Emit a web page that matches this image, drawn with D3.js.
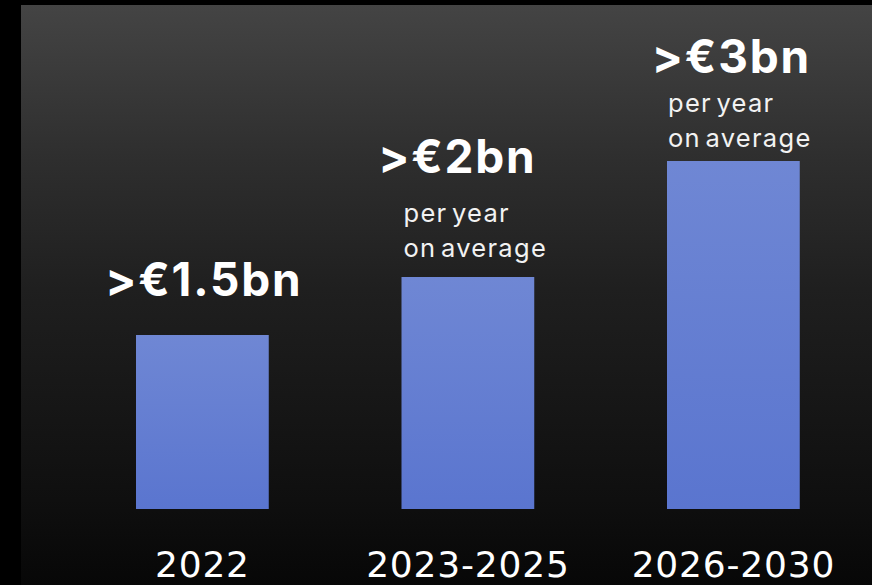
<!DOCTYPE html>
<html>
<head>
<meta charset="utf-8">
<script src="https://cdn.jsdelivr.net/npm/d3@7"></script>
<style>
  html, body { margin: 0; padding: 0; background: #000; }
  svg { display: block; }
</style>
</head>
<body>
<svg id="chart" width="872" height="585"></svg>
<script>
// ---- data ----
const categories = ["2022", "2023-2025", "2026-2030"];
const values = [1.5, 2, 3];               // €bn
const valueLabels = [">€1.5bn", ">€2bn", ">€3bn"];
const noteLines = [[], ["per year", "on average"], ["per year", "on average"]];

// ---- layout ----
const W = 872, H = 585;
const svg = d3.select("#chart");
const defs = svg.append("defs");

const bg = defs.append("linearGradient").attr("id", "bg")
  .attr("x1", 0).attr("y1", 0).attr("x2", 0).attr("y2", 1);
[[0, "#444444"], [0.267, "#2e2e2e"], [0.49, "#1f1f1f"], [0.853, "#0f0f0f"], [1, "#070707"]]
  .forEach(([o, c]) => bg.append("stop").attr("offset", o).attr("stop-color", c));

const barGrad = defs.append("linearGradient").attr("id", "barGrad")
  .attr("x1", 0).attr("y1", 0).attr("x2", 0).attr("y2", 1);
barGrad.append("stop").attr("offset", 0).attr("stop-color", "#6f87d4");
barGrad.append("stop").attr("offset", 1).attr("stop-color", "#5a75cf");

svg.append("rect").attr("width", W).attr("height", H).attr("fill", "#000");
svg.append("rect").attr("x", 21).attr("y", 5).attr("width", W - 21).attr("height", H - 5)
  .attr("fill", "url(#bg)");

const x = d3.scaleBand().domain(categories).range([3.25, 932.5])
  .paddingInner(0.5).paddingOuter(0.5);
const y = d3.scaleLinear().domain([0, 3]).range([509, 161]);

const data = categories.map((c, i) => ({ c, v: values[i], label: valueLabels[i], notes: noteLines[i] }));

// bars
svg.selectAll("rect.bar").data(data).join("rect")
  .attr("class", "bar")
  .attr("x", d => x(d.c))
  .attr("y", d => y(d.v))
  .attr("width", x.bandwidth())
  .attr("height", d => y(0) - y(d.v))
  .attr("fill", "url(#barGrad)");

// value label offsets (style): [dx from bar centre, baseline above bar top]
const labelOffsets = [[1.5, 39], [-10.5, 104], [-2, 88]];
const noteOffsets = [[0, 0], [2, 55], [1, 49]];

svg.selectAll("text.val").data(data).join("text")
  .attr("class", "val")
  .attr("x", (d, i) => x(d.c) + x.bandwidth() / 2 + labelOffsets[i][0])
  .attr("y", (d, i) => y(d.v) - labelOffsets[i][1])
  .attr("text-anchor", "middle")
  .attr("fill", "#ffffff")
  .attr("font-family", "Inter, 'Open Sans', sans-serif")
  .attr("font-weight", 700)
  .attr("font-size", 46)
  .attr("letter-spacing", 1.8)
  .text(d => d.label);

data.forEach((d, i) => {
  d.notes.forEach((t, j) => {
    svg.append("text")
      .attr("x", x(d.c) + noteOffsets[i][0])
      .attr("y", y(d.v) - noteOffsets[i][1] + j * 35)
      .attr("fill", "#f2f2f2")
      .attr("font-family", "Inter, 'Open Sans', sans-serif")
      .attr("font-weight", 400)
      .attr("font-size", 25.5)
      .attr("letter-spacing", 1.3)
      .attr("word-spacing", -4)
      .text(t);
  });
});

// x axis labels
const xAxis = d3.axisBottom(x).tickSize(0).tickPadding(0);
const gx = svg.append("g").attr("transform", "translate(0,577)").call(xAxis);
gx.select(".domain").remove();
gx.selectAll("text")
  .attr("dy", 0)
  .attr("y", 0)
  .attr("fill", "#ffffff")
  .attr("font-family", "'DejaVu Sans', sans-serif")
  .attr("font-size", 36)
  .attr("letter-spacing", 0.8);
</script>
</body>
</html>
